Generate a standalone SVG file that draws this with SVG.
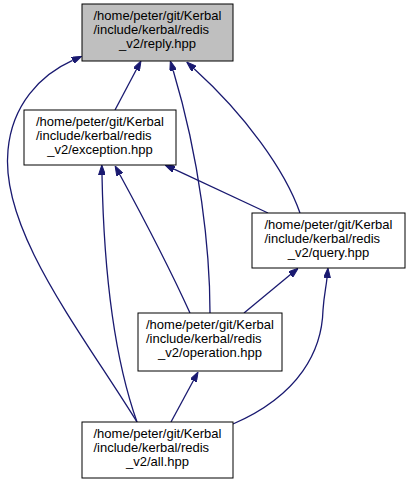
<svg xmlns="http://www.w3.org/2000/svg" width="408" height="483" viewBox="0 0 408 483">
<style>
.box{fill:#ffffff;stroke:#000000;stroke-width:1}
.root{fill:#bfbfbf;stroke:#000000;stroke-width:1}
.lbl{font-family:"Liberation Sans",Arial,Helvetica,sans-serif;font-size:13px;fill:#000000}
.mid{text-anchor:middle}
.edge{fill:none;stroke:#191970;stroke-width:1.3}
</style>
<defs>
<marker id="arr" viewBox="0 0 10 7" refX="0" refY="3.5" markerWidth="10" markerHeight="7" markerUnits="userSpaceOnUse" orient="auto">
<path d="M0,0 L10,3.5 L0,7 z" fill="#191970" stroke="#191970"/>
</marker>
</defs>
<g id="edges">
<path class="edge" marker-end="url(#arr)" d="M115,110 L136.3,69.8"/>
<path class="edge" marker-end="url(#arr)" d="M137,422 C80,330 0,230 8,150 C12,105 40,75 72.6,60.4"/>
<path class="edge" marker-end="url(#arr)" d="M210,313 C210,250 200,160 173.2,70.5"/>
<path class="edge" marker-end="url(#arr)" d="M300,213 C285,170 245,115 194.1,68.8"/>
<path class="edge" marker-end="url(#arr)" d="M268,213 L174.1,169.2"/>
<path class="edge" marker-end="url(#arr)" d="M190,313 C175,280 150,230 119.9,174.7"/>
<path class="edge" marker-end="url(#arr)" d="M137,422 C115,360 104,280 102,175"/>
<path class="edge" marker-end="url(#arr)" d="M244,313 L290.5,274.6"/>
<path class="edge" marker-end="url(#arr)" d="M233,424 C300,395 322,350 323,310 C324,295 326,288 327,278"/>
<path class="edge" marker-end="url(#arr)" d="M171,422 L193.3,380.8"/>
</g>
<g id="reply">
<rect class="root" x="82" y="4" width="151" height="57"/>
<text class="lbl" x="93.5" y="20">/home/peter/git/Kerbal</text>
<text class="lbl" x="93.5" y="34">/include/kerbal/redis</text>
<text class="lbl mid" x="157.5" y="48">_v2/reply.hpp</text>
</g>
<g id="exception">
<rect class="box" x="24" y="110" width="152" height="55"/>
<text class="lbl" x="36" y="126">/home/peter/git/Kerbal</text>
<text class="lbl" x="36" y="140">/include/kerbal/redis</text>
<text class="lbl mid" x="100" y="154">_v2/exception.hpp</text>
</g>
<g id="query">
<rect class="box" x="252" y="213" width="153" height="55"/>
<text class="lbl" x="264.5" y="229">/home/peter/git/Kerbal</text>
<text class="lbl" x="264.5" y="243">/include/kerbal/redis</text>
<text class="lbl mid" x="328.5" y="257">_v2/query.hpp</text>
</g>
<g id="operation">
<rect class="box" x="138" y="313" width="144" height="58"/>
<text class="lbl" x="146" y="329">/home/peter/git/Kerbal</text>
<text class="lbl" x="146" y="343">/include/kerbal/redis</text>
<text class="lbl mid" x="210" y="357">_v2/operation.hpp</text>
</g>
<g id="all">
<rect class="box" x="82" y="422" width="151" height="56"/>
<text class="lbl" x="93.5" y="438">/home/peter/git/Kerbal</text>
<text class="lbl" x="93.5" y="452">/include/kerbal/redis</text>
<text class="lbl mid" x="157.5" y="466">_v2/all.hpp</text>
</g>
</svg>
